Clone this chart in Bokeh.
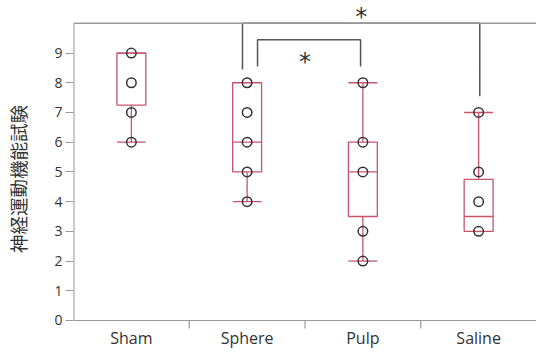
from bokeh.plotting import figure
from bokeh.models import Range1d, FixedTicker, Span, Label, ColumnDataSource
from bokeh.core.properties import value
from bokeh.embed import file_html
from bokeh.resources import INLINE

# ---- data ----
categories = ["Sham", "Sphere", "Pulp", "Saline"]
q1 = [7.25, 5.0, 3.5, 3.0]
q3 = [9.0, 8.0, 6.0, 4.75]
medians = [9.0, 6.0, 5.0, 3.5]
whisker_low = [6.0, 4.0, 2.0, 3.0]
whisker_high = [9.0, 8.0, 8.0, 7.0]
points = {
    "Sham": [9, 8, 7, 6],
    "Sphere": [8, 7, 6, 5, 4],
    "Pulp": [8, 6, 5, 3, 2],
    "Saline": [7, 5, 4, 3],
}
y_ticks = list(range(0, 10))
y_top = 10
y_label = "神経運動機能試験"
comparisons = [("Sphere", "Saline"), ("Sphere", "Pulp")]

BOX = "#c8546e"
DARK = "#333333"
GREY = "#9a9a9a"

xc = {c: i + 0.5 for i, c in enumerate(categories)}
hw = 0.125

p = figure(width=536, height=352, output_backend="svg", toolbar_location=None,
           x_range=Range1d(0, 4), y_range=Range1d(-1.077, 10.6),
           min_border_left=73, min_border_right=0, min_border_top=5, min_border_bottom=0)
p.outline_line_color = None
p.xgrid.visible = False
p.ygrid.visible = False
p.xaxis.visible = False
p.background_fill_color = "white"
p.border_fill_color = "white"

# frame top line, x axis line and left axis line
p.add_layout(Span(location=y_top, dimension="width", line_color=GREY, line_width=1.5))
p.add_layout(Span(location=0, dimension="width", line_color=GREY, line_width=1.2))
p.segment(x0=[0], y0=[0], x1=[0], y1=[y_top], line_color=GREY, line_width=2)

# x category boundary ticks and labels
bounds = [float(i) for i in range(1, len(categories))]
p.segment(x0=bounds, x1=bounds, y0=[0] * len(bounds), y1=[-0.27] * len(bounds),
          line_color=GREY, line_width=1.2)
xs = [xc[c] for c in categories]
p.text(x=xs, y=[-0.58] * len(xs), text=categories, text_align="center",
       text_baseline="middle", text_font=value("Open Sans"),
       text_font_size="16px", text_color=DARK)

# boxes
src = ColumnDataSource(dict(x=xs, left=[x - hw for x in xs], right=[x + hw for x in xs],
                            q1=q1, q3=q3, med=medians, lo=whisker_low, hi=whisker_high))
p.quad(left="left", right="right", bottom="q1", top="q3", source=src,
       fill_color=None, line_color=BOX, line_width=1.3)
p.segment(x0="left", x1="right", y0="med", y1="med", source=src, line_color=BOX, line_width=1.3)
p.segment(x0="x", x1="x", y0="lo", y1="q1", source=src, line_color=BOX, line_width=1.3)
p.segment(x0="x", x1="x", y0="q3", y1="hi", source=src, line_color=BOX, line_width=1.3)

cx0, cx1, cy = [], [], []
for i, c in enumerate(categories):
    if whisker_low[i] < q1[i]:
        cx0.append(xc[c] - hw); cx1.append(xc[c] + hw); cy.append(whisker_low[i])
    if whisker_high[i] > q3[i]:
        cx0.append(xc[c] - hw); cx1.append(xc[c] + hw); cy.append(whisker_high[i])
p.segment(x0=cx0, x1=cx1, y0=cy, y1=cy, line_color=BOX, line_width=1.3)

# points
px, py = [], []
for c in categories:
    for v in points[c]:
        px.append(xc[c]); py.append(v)
p.scatter(px, py, marker="circle", size=9.5, fill_color="white", fill_alpha=0.0,
          line_color=DARK, line_width=1.5)

# significance brackets
a, b = comparisons[0]
xa, xb = xc[a] - 0.04, xc[b] + 0.01
p.line([xa, xa, xb, xb], [8.45, y_top, y_top, 7.55], line_color="#555555", line_width=1.5)
p.add_layout(Label(x=(xa + xb) / 2, y=10.22, text="*", text_align="center",
                   text_baseline="middle", text_font_size="24px", text_color=DARK,
                   text_font="DejaVu Sans"))
a, b = comparisons[1]
xa, xb = xc[a] + 0.09, xc[b] - 0.02
p.line([xa, xa, xb, xb], [8.55, 9.45, 9.45, 8.55], line_color="#555555", line_width=1.5)
p.add_layout(Label(x=xc[a] + 0.5, y=8.70, text="*", text_align="center",
                   text_baseline="middle", text_font_size="24px", text_color=DARK,
                   text_font="DejaVu Sans"))

# y axis
p.yaxis.ticker = FixedTicker(ticks=y_ticks)
p.yaxis.minor_tick_line_color = None
p.yaxis.major_tick_out = 8
p.yaxis.major_tick_in = 0
p.yaxis.major_tick_line_color = GREY
p.yaxis.axis_line_color = None
p.yaxis.major_label_text_font = "Open Sans"
p.yaxis.major_label_text_font_size = "14px"
p.yaxis.major_label_text_color = DARK
p.yaxis.major_label_standoff = 3
p.yaxis.axis_label = y_label
p.yaxis.axis_label_text_font = "Noto Sans CJK JP"
p.yaxis.axis_label_text_font_size = "18.5px"
p.yaxis.axis_label_text_font_style = "normal"
p.yaxis.axis_label_text_color = DARK
p.yaxis.axis_label_standoff = 20

open("out.html", "w").write(file_html(p, INLINE))
